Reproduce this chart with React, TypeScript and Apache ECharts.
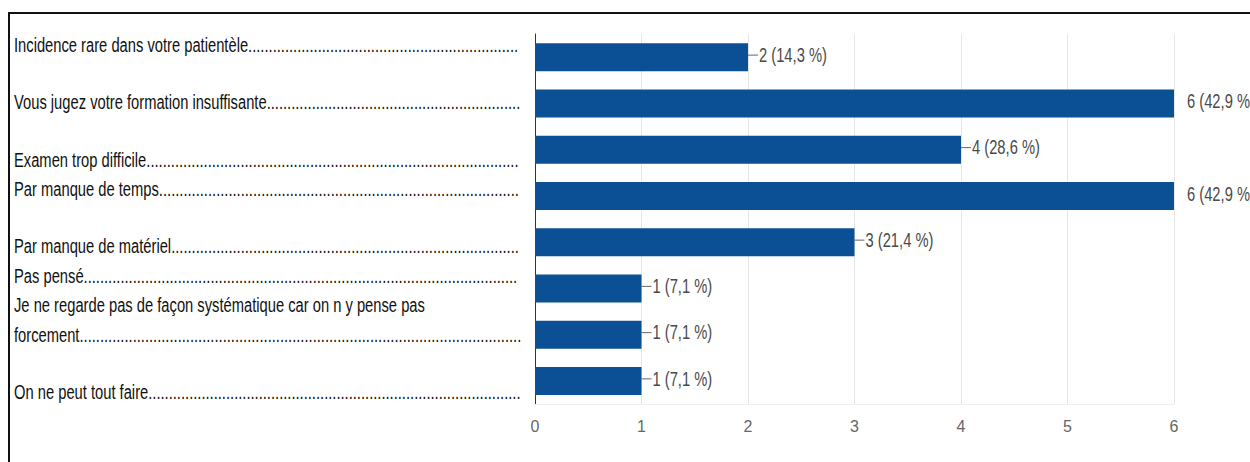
import React, { useEffect, useRef } from "react";
import * as echarts from "echarts";

const categories = [
  "Incidence rare dans votre patientèle",
  "Vous jugez votre formation insuffisante",
  "Examen trop difficile",
  "Par manque de temps",
  "Par manque de matériel",
  "Pas pensé",
  "Je ne regarde pas de façon systématique car on n y pense pas forcement",
  "On ne peut tout faire",
];
const values = [2, 6, 4, 6, 3, 1, 1, 1];
const percentLabels = ["14,3 %", "42,9 %", "28,6 %", "42,9 %", "21,4 %", "7,1 %", "7,1 %", "7,1 %"];
const xTicks = [0, 1, 2, 3, 4, 5, 6];

// left-hand text lines as they appear in the picture (with leader dots flag)
const leftLines = [
  { text: "Incidence rare dans votre patientèle", dots: true },
  { text: "Vous jugez votre formation insuffisante", dots: true },
  { text: "Examen trop difficile", dots: true },
  { text: "Par manque de temps", dots: true },
  { text: "Par manque de matériel", dots: true },
  { text: "Pas pensé", dots: true },
  { text: "Je ne regarde pas de façon systématique car on n y pense pas", dots: false },
  { text: "forcement", dots: true },
  { text: "On ne peut tout faire", dots: true },
];
const leftLineY = [45, 102, 160, 189, 246, 276, 305, 335, 392];

const FONT = '"Liberation Sans", Arial, sans-serif';
const SX = 0.776;
const SY = 1.06;
const DOTS = "..............................................................................................................................................................................";

export default function App() {
  const ref = useRef<HTMLDivElement>(null);
  useEffect(() => {
    if (!ref.current) return;
    const chart = echarts.init(ref.current, undefined, { renderer: "svg" });
    const graphics: any[] = [
      {
        type: "rect",
        shape: { x: 9, y: 13, width: 1270, height: 480 },
        style: { fill: "none", stroke: "#111", lineWidth: 2 },
        z: 10,
      },
    ];
    leftLines.forEach((l, i) => {
      graphics.push({
        type: "text",
        x: 14,
        y: leftLineY[i],
        scaleX: SX,
        scaleY: SY,
        style: {
          text: l.dots ? l.text + DOTS : l.text,
          width: 509 / SX,
          overflow: "truncate",
          ellipsis: "",
          font: `19px ${FONT}`,
          fill: "#111",
          verticalAlign: "middle",
          align: "left",
        },
      });
    });
    chart.setOption({
      animation: false,
      backgroundColor: "#ffffff",
      grid: { left: 535, right: 76, top: 34, bottom: 58, containLabel: false },
      xAxis: {
        type: "value",
        min: 0,
        max: 6,
        interval: 1,
        axisLine: { show: true, lineStyle: { color: "#eeeeee" } },
        axisTick: { show: false },
        splitLine: { show: true, lineStyle: { color: "#e6e6e6", width: 1 } },
        axisLabel: {
          color: "#666",
          fontFamily: FONT,
          fontSize: 16,
          margin: 14,
          formatter: (v: number) => (xTicks.includes(v) ? String(v) : ""),
        },
      },
      yAxis: {
        type: "category",
        data: categories,
        inverse: true,
        axisLine: { show: true, lineStyle: { color: "#333", width: 1 } },
        axisTick: { show: false },
        axisLabel: { show: false },
        splitLine: { show: false },
      },
      series: [
        {
          type: "bar",
          data: values,
          barWidth: 28,
          itemStyle: { color: "#0b4f94" },
          z: 2,
        },
        {
          type: "custom",
          data: values.map((v, i) => [v, i]),
          encode: { x: 0, y: 1 },
          z: 3,
          renderItem: (params: any, api: any) => {
            const v = api.value(0);
            const idx = api.value(1);
            const p = api.coord([v, idx]);
            const full = v === 6;
            const children: any[] = [];
            if (!full) {
              children.push({
                type: "line",
                shape: { x1: p[0], y1: p[1] - 2, x2: p[0] + 10, y2: p[1] - 2 },
                style: { stroke: "#666", lineWidth: 1 },
              });
            }
            children.push({
              type: "text",
              x: full ? p[0] + 13 : p[0] + 11,
              y: p[1] - 2,
              scaleX: SX,
              scaleY: SY,
              style: {
                text: `${v} (${percentLabels[idx]})`,
                font: `19px ${FONT}`,
                fill: "#4a4a4a",
                verticalAlign: "middle",
                align: "left",
              },
            });
            return { type: "group", children };
          },
        },
      ],
      graphic: graphics,
    });
    return () => chart.dispose();
  }, []);
  return (
    <div
      ref={ref}
      style={{ position: "fixed", left: 0, top: 0, width: 1250, height: 462 }}
    />
  );
}
